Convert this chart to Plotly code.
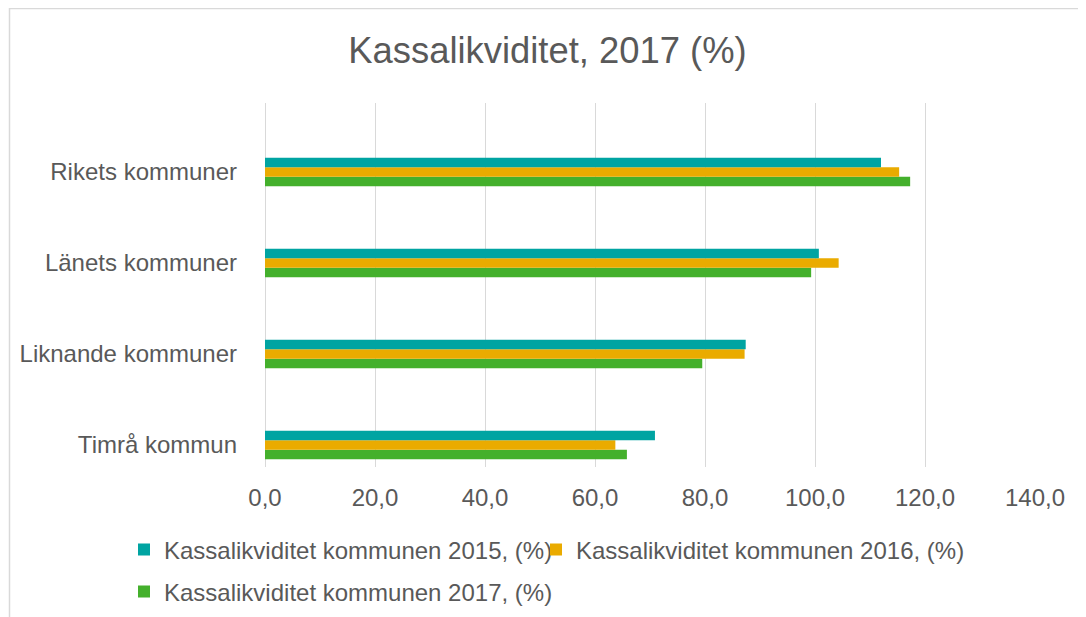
import plotly.graph_objects as go

categories = ["Timrå kommun", "Liknande kommuner", "Länets kommuner", "Rikets kommuner"]
series_names = [
    "Kassalikviditet kommunen 2015, (%)",
    "Kassalikviditet kommunen 2016, (%)",
    "Kassalikviditet kommunen 2017, (%)",
]
values_2015 = [70.9, 87.4, 100.7, 112.0]
values_2016 = [63.7, 87.2, 104.3, 115.3]
values_2017 = [65.8, 79.5, 99.3, 117.3]
x_ticks = [0, 20, 40, 60, 80, 100, 120, 140]
colors = ["#00A4A2", "#EAAB00", "#44B02C"]
legend_ids = ["legend", "legend3", "legend2"]

fig = go.Figure()
# grouped horizontal bars are stacked bottom-up within a group; add in reverse so 2015 is on top
for name, vals, col, lg in reversed(list(zip(series_names, [values_2015, values_2016, values_2017], colors, legend_ids))):
    fig.add_trace(go.Bar(
        y=categories, x=vals, name=name, orientation="h",
        marker=dict(color=col, line=dict(width=0)), legend=lg,
    ))

font_family = "Liberation Sans, Arial, sans-serif"
text_color = "#595959"

# the page places the figure 8px in from the top-left corner; coordinates below account for that
W, H = 1078, 609
L, T, R, B = 257, 95, 51, 150
plot_w = W - L - R
plot_h = H - T - B

def px_x(px):
    return (px - L) / plot_w

def px_y(py):
    return (H - B - py) / plot_h

legend_common = dict(orientation="h", xanchor="left", yanchor="middle",
                     font=dict(size=24, color=text_color),
                     itemclick=False, bgcolor="rgba(0,0,0,0)")

fig.update_layout(
    width=W, height=H,
    margin=dict(l=L, r=R, t=T, b=B, autoexpand=False),
    paper_bgcolor="white", plot_bgcolor="white",
    barmode="group", bargap=0.689, bargroupgap=0,
    separators=", ",
    font=dict(family=font_family, color=text_color, size=24),
    title=dict(text="Kassalikviditet, 2017 (%)", x=539.5 / W, xref="container", xanchor="center",
               y=1 - 42 / H, yanchor="middle", yref="container",
               font=dict(size=36.4, color=text_color, family=font_family)),
    legend=dict(x=px_x(116), y=px_y(542), **legend_common),
    legend3=dict(x=px_x(528), y=px_y(542), **legend_common),
    legend2=dict(x=px_x(116), y=px_y(584), **legend_common),
    showlegend=True,
)
fig.update_xaxes(
    range=[0, 140], tickvals=x_ticks, tickformat=".1f",
    showgrid=True, gridcolor="#d9d9d9", gridwidth=1,
    zeroline=True, zerolinecolor="#d9d9d9", zerolinewidth=1,
    showline=False, ticks="", ticklabelstandoff=14,
    tickfont=dict(size=24, color=text_color),
)
fig.update_yaxes(
    range=[-0.242, 3.758], showgrid=False, zeroline=False, showline=False,
    ticks="", ticklabelstandoff=27,
    tickfont=dict(size=24, color=text_color),
)
fig.add_shape(type="rect", xref="paper", yref="paper",
              x0=px_x(1.5), x1=px_x(W + 10),
              y0=px_y(H + 10), y1=px_y(0.5),
              line=dict(color="#d9d9d9", width=1.5), fillcolor="rgba(0,0,0,0)", layer="below")

fig.write_html("out.html")
